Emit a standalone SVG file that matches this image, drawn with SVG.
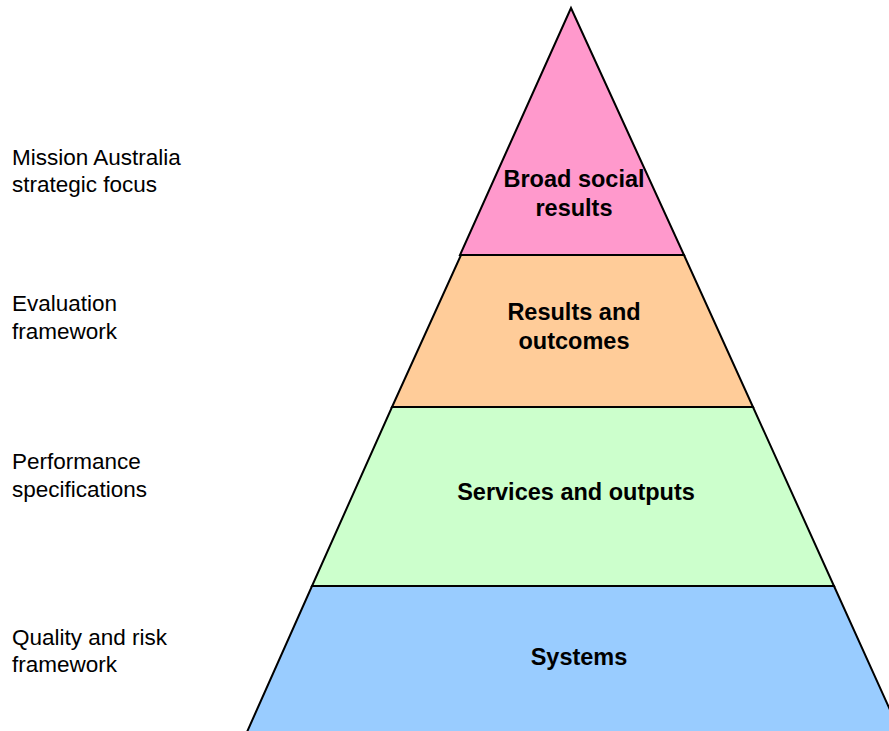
<svg xmlns="http://www.w3.org/2000/svg" width="889" height="731" viewBox="0 0 889 731">
<style>
.layer{stroke:#000;stroke-width:2;stroke-linejoin:miter}
.side{font-family:"Liberation Sans",Arial,sans-serif;font-size:22.5px;fill:#000}
.lbl{font-family:"Liberation Sans",Arial,sans-serif;font-size:23.5px;font-weight:bold;fill:#000;text-anchor:middle}
</style>
<rect width="889" height="731" fill="#fff"/>
<g id="layer-systems">
<polygon class="layer" fill="#99CCFF" points="312,586 834,586 900,732 247,732"/>
<text class="lbl" x="579" y="665">Systems</text>
</g>
<g id="layer-services">
<polygon class="layer" fill="#CCFFCC" points="392,407 753,407 834,586 312,586"/>
<text class="lbl" x="576" y="500">Services and outputs</text>
</g>
<g id="layer-results">
<polygon class="layer" fill="#FFCC99" points="461,255 684,255 753,407 392,407"/>
<text class="lbl" x="574" y="320">Results and</text>
<text class="lbl" x="574" y="349">outcomes</text>
</g>
<g id="layer-broad">
<polygon class="layer" fill="#FF99CC" points="571,8 684,255 460,255"/>
<text class="lbl" x="574" y="187">Broad social</text>
<text class="lbl" x="574" y="216">results</text>
</g>
<g id="side-labels">
<text class="side" x="12" y="165">Mission Australia</text>
<text class="side" x="12" y="192">strategic focus</text>
<text class="side" x="12" y="311">Evaluation</text>
<text class="side" x="12" y="339">framework</text>
<text class="side" x="12" y="469">Performance</text>
<text class="side" x="12" y="497">specifications</text>
<text class="side" x="12" y="645">Quality and risk</text>
<text class="side" x="12" y="672">framework</text>
</g>
<g id="connectors"></g>
</svg>
